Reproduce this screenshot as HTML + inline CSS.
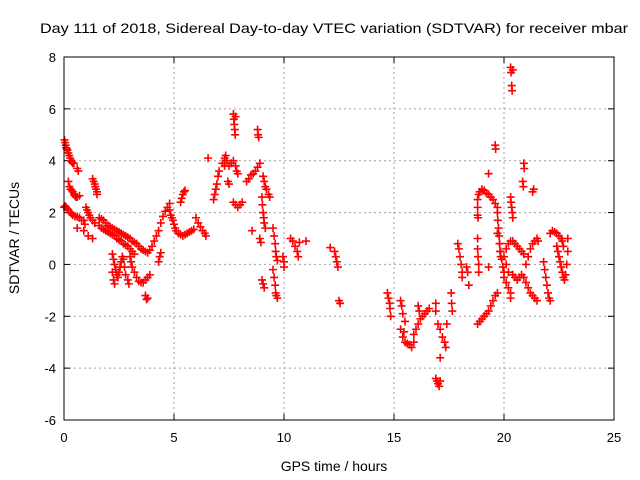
<!DOCTYPE html>
<html><head><meta charset="utf-8"><style>
html,body{margin:0;padding:0;background:#fff}
svg{display:block;font-family:"Liberation Sans",sans-serif}
</style></head><body>
<svg id="chart" width="640" height="480" viewBox="0 0 640 480" xmlns="http://www.w3.org/2000/svg">
<rect width="640" height="480" fill="#fff"/>
<text x="334" y="33" font-size="14" text-anchor="middle" textLength="588" lengthAdjust="spacingAndGlyphs">Day 111 of 2018, Sidereal Day-to-day VTEC variation (SDTVAR) for receiver mbar</text>
<g id="grid"></g>
<g id="ticks"></g>
<g id="marks"></g>
<rect x="64" y="57" width="550" height="363" fill="none" stroke="#000" stroke-width="1"/>
<text x="334" y="471" font-size="14" text-anchor="middle">GPS time / hours</text>
<text x="0" y="0" font-size="14" text-anchor="middle" transform="translate(19,238) rotate(-90)">SDTVAR / TECUs</text>
</svg>
<script>
const xTicks=[0,5,10,15,20,25];
const yTicks=[-6,-4,-2,0,2,4,6,8];
const hours=[0.02,0.05,0.08,0.1,0.13,0.16,0.2,0.24,0.28,0.32,0.36,0.4,0.45,0.6,0.65,
0.2,0.25,0.3,0.35,0.4,0.45,0.5,0.55,0.6,0.7,
0.0,0.05,0.1,0.15,0.2,0.3,0.35,0.4,0.5,0.6,0.7,0.8,0.9,
0.6,0.9,1.1,1.3,0.95,
1.0,1.05,1.1,1.15,1.2,1.3,1.4,
1.3,1.35,1.4,1.42,1.45,1.5,1.5,
1.6,1.7,1.8,1.9,2.0,2.1,2.2,2.3,2.4,2.5,2.6,2.7,2.8,2.9,3.0,3.1,3.2,3.3,3.4,3.5,3.6,3.7,3.8,3.9,4.0,4.1,4.2,4.3,4.4,4.5,4.6,4.7,4.8,
1.6,1.7,1.8,1.9,2.0,2.1,2.2,2.3,2.4,2.5,2.6,2.7,2.8,2.9,3.0,3.1,3.2,
2.2,2.25,2.3,2.35,2.4,2.45,2.5,2.55,2.6,2.65,2.7,2.75,2.8,2.9,2.95,2.2,2.25,2.3,
3.0,3.05,3.1,3.2,3.3,3.4,3.5,3.6,3.7,3.8,3.9,
3.7,3.75,3.8,4.3,4.35,4.4,
4.8,4.85,4.9,4.95,5.0,5.05,5.1,5.2,5.3,5.4,5.5,5.6,5.7,5.8,5.9,
5.3,5.35,5.4,5.45,5.5,
6.0,6.1,6.2,6.3,6.4,6.45,6.55,
6.8,6.85,6.9,6.95,7.0,7.05,
7.2,7.3,7.35,7.4,7.5,7.6,7.7,7.8,7.85,7.9,7.3,
7.7,7.72,7.74,7.76,7.78,7.8,7.5,7.45,
7.7,7.8,7.9,8.0,8.1,
8.3,8.4,8.5,8.6,8.7,8.8,8.9,8.8,8.82,8.85,
9.05,9.1,9.15,9.2,9.3,9.35,
9.0,9.02,9.05,9.08,9.1,9.15,8.55,8.9,8.95,
9.5,9.55,9.6,9.62,9.65,9.7,9.0,9.05,9.1,
9.5,9.55,9.6,9.62,9.65,9.7,9.95,10.0,10.0,
10.3,10.4,10.5,10.6,10.65,10.7,11.0,12.1,12.3,12.35,12.4,12.45,12.5,12.55,
14.7,14.75,14.8,14.82,14.85,
15.3,15.35,15.4,15.3,15.4,15.5,15.6,15.7,15.8,15.9,15.5,15.45,
15.9,16.0,16.1,16.2,16.3,16.4,16.5,16.6,16.1,16.15,16.9,16.9,
17.0,17.1,17.2,17.3,17.35,17.4,17.1,
16.9,16.95,17.0,17.05,17.1,17.6,17.62,17.65,
17.9,17.95,18.0,18.05,18.1,18.1,18.3,18.35,18.4,
18.8,18.8,18.82,18.85,18.85,19.3,
18.8,18.9,19.0,19.1,19.2,19.3,19.4,19.5,19.6,19.7,
18.8,18.85,18.9,19.0,19.1,19.2,19.3,19.4,19.5,19.6,19.7,18.8,18.8,18.82,
19.6,19.62,19.3,
19.7,19.72,19.75,19.78,19.8,19.82,19.85,
19.7,19.8,19.85,19.9,19.95,20.0,
20.3,20.32,20.35,20.38,20.4,
20.3,20.32,20.35,20.37,20.4,
20.9,20.92,20.85,20.88,21.3,21.35,
20.0,20.1,20.2,20.3,20.4,20.5,20.6,20.7,20.8,20.9,
20.0,20.1,20.2,20.3,20.1,20.2,
20.4,20.5,20.6,20.7,20.8,20.9,21.0,21.1,21.2,21.3,21.4,21.5,20.3,
21.0,21.1,21.2,21.3,21.4,21.5,21.55,
21.8,21.85,21.9,21.95,22.0,22.05,22.1,
22.1,22.2,22.3,22.4,22.5,22.6,22.65,22.7,
22.4,22.45,22.5,22.55,22.6,22.65,22.7,22.75,22.8,22.85,22.9,22.9];
const sdtvar=[4.8,4.7,4.6,4.5,4.45,4.4,4.3,4.2,4.1,4.0,3.95,3.9,3.9,3.7,3.6,
3.2,3.0,2.9,2.85,2.8,2.7,2.65,2.6,2.6,2.65,
2.2,2.25,2.2,2.15,2.1,2.0,1.95,1.9,1.85,1.85,1.8,1.7,1.7,
1.4,1.3,1.1,1.0,1.55,
2.2,2.1,2.0,1.9,1.8,1.7,1.6,
3.3,3.2,3.1,3.0,2.9,2.8,2.7,
1.8,1.75,1.7,1.6,1.5,1.45,1.4,1.35,1.3,1.25,1.2,1.15,1.1,1.05,1.0,0.9,0.85,0.8,0.7,0.6,0.55,0.5,0.45,0.55,0.7,0.9,1.1,1.3,1.6,1.85,2.05,2.2,2.35,
1.5,1.4,1.35,1.3,1.25,1.2,1.15,1.1,1.0,0.95,0.9,0.8,0.75,0.7,0.6,0.5,0.4,
0.4,0.2,0.0,-0.2,-0.4,-0.5,-0.3,-0.1,0.1,0.3,0.2,-0.1,-0.4,-0.6,-0.75,-0.3,-0.6,-0.75,
0.3,0.1,-0.1,-0.3,-0.5,-0.65,-0.7,-0.7,-0.6,-0.5,-0.4,
-1.2,-1.35,-1.3,0.1,0.3,0.45,
2.1,1.9,1.8,1.7,1.55,1.4,1.3,1.2,1.15,1.1,1.15,1.2,1.25,1.3,1.35,
2.4,2.55,2.7,2.8,2.85,
1.8,1.6,1.45,1.3,1.2,1.1,4.1,
2.5,2.7,2.9,3.1,3.4,3.6,
3.9,4.1,4.2,4.0,3.8,3.9,4.0,3.8,3.6,3.5,3.8,
5.8,5.6,5.4,5.2,5.0,5.7,3.1,3.2,
2.4,2.3,2.2,2.3,2.4,
3.2,3.3,3.45,3.5,3.6,3.75,3.9,5.2,5.0,4.9,
3.4,3.2,3.0,2.9,2.7,2.6,
2.6,2.3,2.0,1.8,1.6,1.4,1.3,1.0,0.85,
1.4,1.1,0.8,0.5,0.3,0.15,-0.6,-0.75,-0.9,
-0.2,-0.5,-0.8,-1.1,-1.2,-1.3,0.3,0.1,-0.1,
1.0,0.9,0.7,0.5,0.3,0.85,0.9,0.65,0.5,0.3,0.1,-0.1,-1.4,-1.5,
-1.1,-1.3,-1.5,-1.7,-2.0,
-1.4,-1.6,-1.9,-2.5,-2.8,-3.0,-3.05,-3.1,-3.2,-3.0,-2.2,-2.6,
-2.7,-2.5,-2.3,-2.1,-2.0,-1.9,-1.8,-1.7,-1.6,-1.8,-1.5,-1.8,
-2.3,-2.5,-2.8,-3.0,-3.2,-2.3,-3.6,
-4.4,-4.5,-4.6,-4.7,-4.5,-1.1,-1.5,-1.8,
0.8,0.6,0.3,0.0,-0.3,-0.5,-0.1,-0.3,-0.8,
1.0,0.6,0.3,0.0,-0.3,-0.1,
-2.3,-2.2,-2.1,-2.0,-1.9,-1.8,-1.6,-1.4,-1.2,-1.1,
2.5,2.7,2.8,2.9,2.85,2.75,2.7,2.6,2.5,2.35,2.2,2.2,1.9,1.8,
4.6,4.45,3.5,
2.0,1.7,1.4,1.1,0.8,0.5,0.3,
1.2,0.8,0.5,0.2,-0.1,-0.3,
2.6,2.4,2.2,2.0,1.8,
7.6,7.4,6.9,6.7,7.5,
3.9,3.7,3.2,3.0,2.8,2.9,
0.3,0.6,0.8,0.9,0.9,0.8,0.7,0.6,0.5,0.4,
-0.5,-0.7,-0.9,-1.1,0.0,-0.3,
-0.4,-0.5,-0.6,-0.5,-0.4,-0.5,-0.7,-0.9,-1.1,-1.2,-1.3,-1.4,-1.3,
0.0,0.3,0.6,0.8,0.9,1.0,0.9,
0.1,-0.2,-0.5,-0.8,-1.1,-1.3,-1.4,
1.2,1.3,1.25,1.2,1.1,1.0,0.9,0.7,
0.7,0.5,0.3,0.1,-0.1,-0.3,-0.5,-0.6,-0.4,0.0,0.5,1.0];

const L=64,R=614,T=57,B=420;
function xs(v){return L+(v-0)/(25-0)*(R-L);}
function ys(v){return B-(v-(-6))/(8-(-6))*(B-T);}
const NS="http://www.w3.org/2000/svg";
const grid=document.getElementById('grid'),ticks=document.getElementById('ticks'),marks=document.getElementById('marks');
function mk(tag,attrs,parent){const e=document.createElementNS(NS,tag);for(const k in attrs)e.setAttribute(k,attrs[k]);parent.appendChild(e);return e;}
xTicks.forEach(function(t){
  const x=xs(t);
  if(t>0&&t<25){const g=mk('line',{x1:x,y1:T,x2:x,y2:B,stroke:'#a0a0a0','stroke-dasharray':'2,3','stroke-width':1},grid);
    
    }
  mk('line',{x1:x,y1:B,x2:x,y2:B-6,stroke:'#000'},ticks);
  mk('line',{x1:x,y1:T,x2:x,y2:T+6,stroke:'#000'},ticks);
  const lb=mk('text',{x:x,y:B+22,'font-size':13,'text-anchor':'middle'},ticks);
  lb.textContent=t;
  
  
});
yTicks.forEach(function(t){
  const y=ys(t);
  if(t>-6&&t<8){const g=mk('line',{x1:L,y1:y,x2:R,y2:y,stroke:'#a0a0a0','stroke-dasharray':'2,3','stroke-width':1},grid);
    
    }
  mk('line',{x1:L,y1:y,x2:L+6,y2:y,stroke:'#000'},ticks);
  mk('line',{x1:R,y1:y,x2:R-6,y2:y,stroke:'#000'},ticks);
  const lb=mk('text',{x:L-8,y:y+5,'font-size':13,'text-anchor':'end'},ticks);
  lb.textContent=t;
  
  
});
for(let i=0;i<hours.length;i++){
  const cx=xs(hours[i]),cy=ys(sdtvar[i]);
  const p=mk('path',{d:'M'+(cx-4)+' '+cy+'H'+(cx+4)+'M'+cx+' '+(cy-4)+'V'+(cy+4),stroke:'#ff0000','stroke-width':1.6,fill:'none'},marks);
  
  
}
</script>
</body></html>
